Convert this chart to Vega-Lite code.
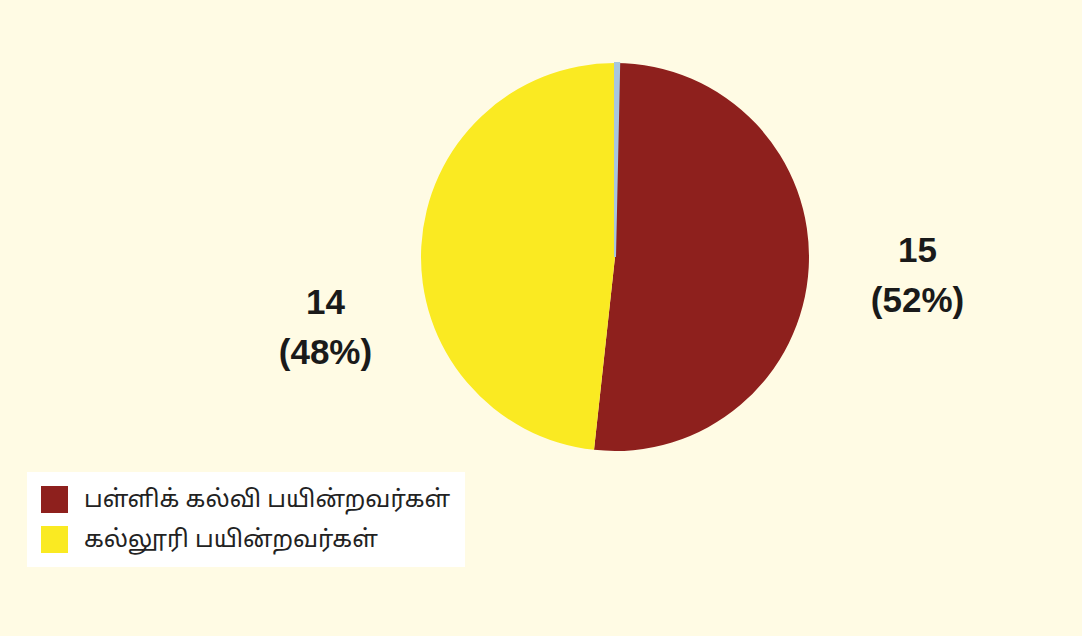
{
  "$schema": "https://vega.github.io/schema/vega-lite/v6.json",
  "width": 1082,
  "height": 636,
  "autosize": {"type": "fit", "contains": "padding"},
  "padding": {"left": 148, "top": 0, "right": 0, "bottom": 122},
  "background": "#FFFBE4",
  "config": {"view": {"stroke": null}},
  "data": {
    "values": [
      {"category": "பள்ளிக் கல்வி பயின்றவர்கள்", "value": 15, "pct": 52},
      {"category": "கல்லூரி பயின்றவர்கள்", "value": 14, "pct": 48}
    ]
  },
  "layer": [
    {
      "mark": {"type": "arc", "outerRadius": 194},
      "encoding": {
        "theta": {"field": "value", "type": "quantitative", "stack": true},
        "order": {"field": "value", "sort": "descending"},
        "color": {
          "field": "category",
          "type": "nominal",
          "scale": {
            "domain": ["பள்ளிக் கல்வி பயின்றவர்கள்", "கல்லூரி பயின்றவர்கள்"],
            "range": ["#8E201D", "#FAEA22"]
          },
          "legend": {
            "title": null,
            "orient": "none",
            "legendX": -121,
            "legendY": 472,
            "fillColor": "#FFFFFF",
            "padding": 14,
            "symbolType": "square",
            "symbolSize": 729,
            "symbolStrokeWidth": 0,
            "labelFont": "Noto Sans Tamil, Lohit Tamil, Noto Sans, sans-serif",
            "labelFontSize": 24,
            "labelColor": "#222222",
            "labelOffset": 16,
            "rowPadding": 13,
            "labelLimit": 500
          }
        }
      }
    },
    {
      "data": {"values": [{"category": "sep", "value": 0.1}]},
      "mark": {"type": "arc", "outerRadius": 194, "fill": "#A7C6DE", "stroke": "#A7C6DE", "strokeWidth": 2},
      "encoding": {
        "theta": {"field": "value", "type": "quantitative", "stack": true}
      }
    },
    {
      "transform": [
        {"calculate": "datum.value + '\\n(' + datum.pct + '%)'", "as": "label"}
      ],
      "mark": {
        "type": "text",
        "radius": 303,
        "font": "Liberation Sans",
        "fontWeight": "bold",
        "fontSize": 35,
        "lineBreak": "\n",
        "lineHeight": 50,
        "align": "center",
        "baseline": "middle",
        "color": "#1A1A1A",
        "dx": {"expr": "datum.value == 14 ? 13 : 0"},
        "dy": {"expr": "datum.value == 14 ? 62 : -22"}
      },
      "encoding": {
        "theta": {"field": "value", "type": "quantitative", "stack": true},
        "order": {"field": "value", "sort": "descending"},
        "text": {"field": "label"}
      }
    }
  ]
}
